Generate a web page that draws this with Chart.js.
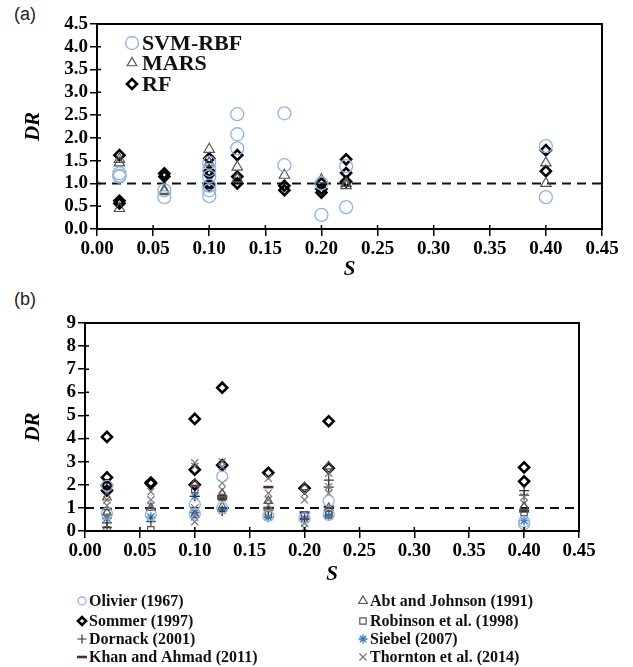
<!DOCTYPE html>
<html>
<head>
<meta charset="utf-8">
<script src="https://cdn.jsdelivr.net/npm/chart.js@4.4.1/dist/chart.umd.min.js"></script>
<style>
  body { margin: 0; background: #fff; width: 633px; height: 667px; position: relative; overflow: hidden; }
  canvas { position: absolute; left: 0; }
  .lab { position: absolute; font: 18px "Liberation Sans", Arial, sans-serif; color: #222; }
</style>
</head>
<body>
<div class="lab" style="left:14px;top:4px">(a)</div>
<div class="lab" style="left:14px;top:289px">(b)</div>
<canvas id="chartA" width="633" height="280" style="top:0"></canvas>
<canvas id="chartB" width="633" height="387" style="top:280px"></canvas>
<script>
// tick labels
var xTickLabels = ['0.00', '0.05', '0.10', '0.15', '0.20', '0.25', '0.30', '0.35', '0.40', '0.45'];
var yTickLabelsA = ['0.0', '0.5', '1.0', '1.5', '2.0', '2.5', '3.0', '3.5', '4.0', '4.5'];
var yTickLabelsB = ['0', '1', '2', '3', '4', '5', '6', '7', '8', '9'];

// (a) model results, [S, DR]
var svmRbf = [[0.02, 1.22], [0.02, 1.17], [0.02, 1.15], [0.06, 0.85], [0.06, 0.7], [0.10, 1.45], [0.10, 1.3],
  [0.10, 1.15], [0.10, 0.95], [0.10, 0.85], [0.10, 0.72], [0.125, 2.52], [0.125, 2.08], [0.125, 1.77],
  [0.167, 2.54], [0.167, 1.4], [0.20, 0.31], [0.20, 1.0], [0.222, 1.38], [0.222, 0.48], [0.40, 1.82], [0.40, 0.7]];
var mars = [[0.02, 1.53], [0.02, 1.45], [0.02, 0.45], [0.06, 0.82], [0.06, 0.85], [0.10, 1.75], [0.10, 1.45],
  [0.125, 1.36], [0.125, 1.1], [0.167, 1.18], [0.20, 1.08], [0.222, 1.0], [0.222, 0.95], [0.40, 1.45], [0.40, 1.0]];
var rf = [[0.02, 1.62], [0.02, 0.62], [0.02, 0.56], [0.06, 1.22], [0.06, 1.15], [0.10, 1.55], [0.10, 1.27],
  [0.10, 1.2], [0.10, 1.0], [0.10, 0.95], [0.125, 1.62], [0.125, 1.15], [0.125, 1.0], [0.167, 0.95], [0.167, 0.85],
  [0.20, 1.0], [0.20, 0.88], [0.20, 0.8], [0.222, 1.53], [0.222, 1.23], [0.222, 1.04], [0.40, 1.73], [0.40, 1.27]];

// (b) empirical formulas, [S, DR]
var olivier = [[0.02, 1.95], [0.02, 0.75], [0.06, 0.7], [0.10, 1.15], [0.10, 0.75], [0.125, 2.35], [0.125, 1.0],
  [0.167, 0.65], [0.20, 0.55], [0.222, 1.3], [0.222, 0.7], [0.40, 0.4], [0.40, 0.3]];
var sommer = [[0.02, 4.07], [0.02, 2.32], [0.02, 1.98], [0.02, 1.75], [0.06, 2.1], [0.06, 2.05], [0.10, 4.85],
  [0.10, 2.65], [0.10, 2.0], [0.125, 6.2], [0.125, 2.85], [0.167, 2.52], [0.20, 1.85], [0.222, 4.75], [0.222, 2.72],
  [0.40, 2.75], [0.40, 2.15]];
var dornack = [[0.02, 0.35], [0.02, 0.15], [0.06, 0.4], [0.10, 1.5], [0.125, 0.85], [0.167, 0.9], [0.20, 0.5],
  [0.222, 2.2], [0.222, 1.9], [0.40, 1.75], [0.40, 1.55]];
var khan = [[0.02, 0.95], [0.06, 0.95], [0.10, 1.95], [0.125, 1.5], [0.125, 1.4], [0.167, 1.9], [0.167, 1.0],
  [0.20, 0.8], [0.222, 1.05], [0.40, 0.85]];
var abt = [[0.02, 1.45], [0.02, 0.8], [0.06, 1.0], [0.10, 2.05], [0.10, 0.7], [0.125, 1.6], [0.125, 1.05],
  [0.167, 1.3], [0.20, 1.9], [0.222, 2.8], [0.222, 1.0], [0.40, 1.05]];
var robinson = [[0.02, 0.05], [0.06, 0.05], [0.10, 1.8], [0.125, 1.45], [0.167, 0.7], [0.20, 0.65], [0.222, 0.85],
  [0.222, 0.7], [0.40, 0.8]];
var siebel = [[0.02, 0.55], [0.06, 0.6], [0.10, 1.5], [0.10, 0.8], [0.125, 0.9], [0.167, 0.6], [0.20, 0.55],
  [0.222, 0.65], [0.40, 0.45]];
var thornton = [[0.02, 1.35], [0.02, 1.1], [0.02, 0.65], [0.06, 1.7], [0.06, 1.35], [0.06, 1.1], [0.10, 2.95],
  [0.10, 2.8], [0.10, 1.0], [0.10, 0.6], [0.10, 0.4], [0.125, 3.0], [0.125, 2.78], [0.125, 2.07], [0.125, 1.78],
  [0.167, 2.28], [0.167, 1.64], [0.167, 1.35], [0.167, 1.12], [0.20, 1.63], [0.20, 1.35], [0.20, 0.33], [0.20, 0.12],
  [0.222, 2.5], [0.222, 1.92], [0.222, 1.63], [0.40, 1.48], [0.40, 1.2]];

var refLine = [[0, 1], [0.45, 1]];

var SERIF = '"Liberation Serif", "Times New Roman", serif';
Chart.defaults.font.family = SERIF;

function pts(arr) {
  return arr.map(function (p) { return { x: p[0], y: p[1] }; });
}

function series(label, arr, style, color, radius, width) {
  return {
    label: label,
    data: pts(arr),
    pointStyle: style,
    pointRadius: radius,
    pointBorderColor: color,
    pointBackgroundColor: 'rgba(0,0,0,0)',
    pointBorderWidth: width,
    showLine: false
  };
}

function dashLine(pointR) {
  return {
    label: 'ref',
    data: pts(refLine),
    type: 'line',
    borderColor: '#111',
    borderWidth: 2,
    borderDash: [9, 6],
    pointRadius: pointR,
    pointBorderColor: '#e8a060',
    pointBackgroundColor: 'rgba(0,0,0,0)',
    pointBorderWidth: 1,
    fill: false
  };
}

// frame round the plot and the inner half of the crossing ticks
var framePlugin = {
  id: 'frame',
  afterDraw: function (chart) {
    var ctx = chart.ctx, a = chart.chartArea;
    ctx.save();
    ctx.strokeStyle = '#000';
    ctx.lineWidth = 2;
    ctx.strokeRect(a.left, a.top, a.right - a.left, a.bottom - a.top);
    ctx.lineWidth = 1.5;
    ctx.beginPath();
    chart.scales.x.ticks.forEach(function (t) {
      var px = chart.scales.x.getPixelForValue(t.value);
      ctx.moveTo(px, a.bottom); ctx.lineTo(px, a.bottom - 4);
    });
    chart.scales.y.ticks.forEach(function (t) {
      var py = chart.scales.y.getPixelForValue(t.value);
      ctx.moveTo(a.left, py); ctx.lineTo(a.left + 4, py);
    });
    ctx.stroke();
    ctx.restore();
  }
};

// legend drawn from the datasets' own marker styles
function legendPlugin(items, font) {
  return {
    id: 'legendBox',
    afterDraw: function (chart) {
      var ctx = chart.ctx;
      ctx.save();
      ctx.font = font;
      ctx.textBaseline = 'middle';
      items.forEach(function (it) {
        var ds = chart.data.datasets[it.ds];
        ctx.strokeStyle = ds.pointBorderColor;
        ctx.fillStyle = 'rgba(0,0,0,0)';
        ctx.lineWidth = ds.pointBorderWidth;
        Chart.helpers.drawPoint(ctx, { pointStyle: ds.pointStyle, radius: it.r, rotation: 0, borderWidth: ds.pointBorderWidth }, it.x, it.y);
        ctx.fillStyle = '#111';
        ctx.fillText(ds.label, it.tx, it.y + 1);
      });
      ctx.restore();
    }
  };
}

function scales(yMax, yStep, yLabels, yWidth, xHeight) {
  return {
    x: {
      type: 'linear', min: 0, max: 0.45,
      ticks: {
        stepSize: 0.05, autoSkip: false, maxRotation: 0, color: '#000', padding: 2,
        font: { family: SERIF, size: 19, weight: 'bold' },
        callback: function (v, i) { return xTickLabels[i]; }
      },
      grid: { display: true, drawOnChartArea: false, drawTicks: true, tickLength: 7, color: '#000', lineWidth: 1.5 },
      border: { display: true, color: '#000', width: 2 },
      title: {
        display: true, text: 'S', color: '#000', padding: { top: 0, bottom: 0 },
        font: { family: SERIF, size: 21, weight: 'bold', style: 'italic', lineHeight: 1 }
      },
      afterFit: function (s) { s.height = xHeight; }
    },
    y: {
      type: 'linear', min: 0, max: yMax,
      ticks: {
        stepSize: yStep, autoSkip: false, color: '#000', padding: 2,
        font: { family: SERIF, size: 19, weight: 'bold' },
        callback: function (v, i) { return yLabels[i]; }
      },
      grid: { display: true, drawOnChartArea: false, drawTicks: true, tickLength: 7, color: '#000', lineWidth: 1.5 },
      border: { display: true, color: '#000', width: 2 },
      title: {
        display: true, text: 'DR', color: '#000', padding: { top: 21, bottom: 0 },
        font: { family: SERIF, size: 21, weight: 'bold', style: 'italic', lineHeight: 1.2 }
      },
      afterFit: function (s) { s.width = yWidth; }
    }
  };
}

var commonOpts = {
  responsive: false,
  animation: false,
  devicePixelRatio: 1,
  plugins: { legend: { display: false }, tooltip: { enabled: false } }
};

// (a)
new Chart(document.getElementById('chartA'), {
  type: 'scatter',
  data: {
    datasets: [
      series('SVM-RBF', svmRbf, 'circle', '#8fb4e3', 6.5, 1.3),
      series('MARS', mars, 'triangle', '#555', 6, 1.2),
      series('RF', rf, 'rectRot', '#000', 5, 2.6),
      dashLine([3, 0])
    ]
  },
  options: Object.assign({}, commonOpts, {
    layout: { padding: { left: 0, top: 24, right: 31, bottom: 0 } },
    scales: scales(4.5, 0.5, yTickLabelsA, 97, 51)
  }),
  plugins: [framePlugin, legendPlugin([
    { ds: 0, x: 132, y: 43, r: 6.5, tx: 142 },
    { ds: 1, x: 132, y: 63, r: 5.5, tx: 142 },
    { ds: 2, x: 132, y: 84, r: 5, tx: 142 }
  ], 'bold 22px ' + SERIF)]
});

// (b)
new Chart(document.getElementById('chartB'), {
  type: 'scatter',
  data: {
    datasets: [
      series('Olivier (1967)', olivier, 'circle', '#8fb4e3', 5.5, 1.3),
      series('Abt and Johnson (1991)', abt, 'triangle', '#555', 5, 1.2),
      series('Robinson et al. (1998)', robinson, 'rect', '#555', 4.5, 1.2),
      series('Thornton et al. (2014)', thornton, 'crossRot', '#777', 5, 1.2),
      series('Dornack (2001)', dornack, 'cross', '#333', 5, 1.2),
      series('Siebel (2007)', siebel, 'star', '#3d7cc4', 5, 1.4),
      series('Khan and Ahmad (2011)', khan, 'line', '#4a3020', 5, 2.6),
      series('Sommer (1997)', sommer, 'rectRot', '#000', 5, 2.6),
      dashLine(0)
    ]
  },
  options: Object.assign({}, commonOpts, {
    layout: { padding: { left: 0, top: 43, right: 54, bottom: 82 } },
    scales: scales(9, 1, yTickLabelsB, 85, 54)
  }),
  plugins: [framePlugin, legendPlugin([
    { ds: 0, x: 82, y: 321, r: 4, tx: 89 },
    { ds: 7, x: 82, y: 341, r: 4, tx: 89 },
    { ds: 4, x: 82, y: 359, r: 4.5, tx: 89 },
    { ds: 6, x: 82, y: 377, r: 5, tx: 89 },
    { ds: 1, x: 363, y: 321, r: 5, tx: 370 },
    { ds: 2, x: 363, y: 341, r: 4.5, tx: 370 },
    { ds: 5, x: 363, y: 359, r: 4.5, tx: 370 },
    { ds: 3, x: 363, y: 377, r: 5, tx: 370 }
  ], 'bold 16px ' + SERIF)]
});
</script>
</body>
</html>
